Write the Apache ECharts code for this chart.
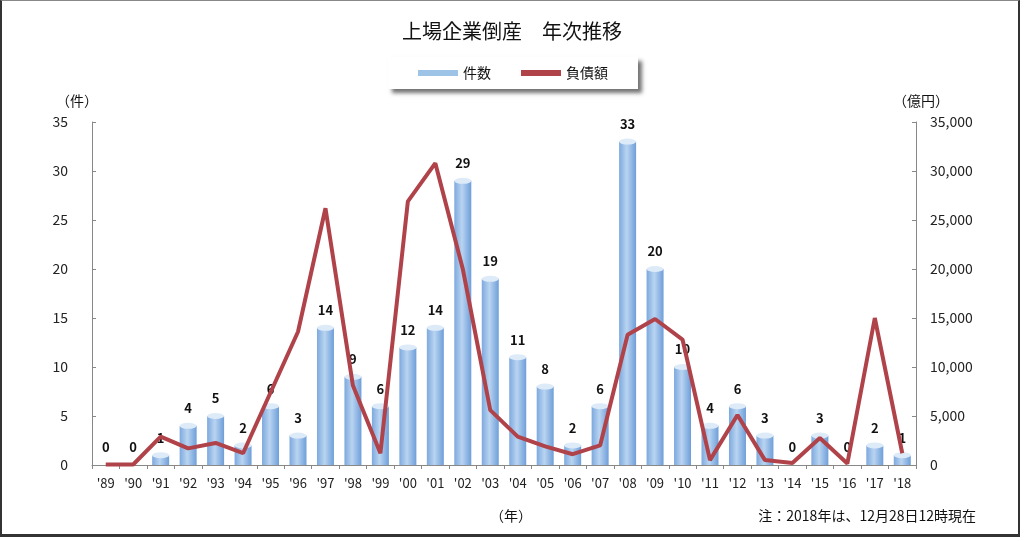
<!DOCTYPE html>
<html>
<head>
<meta charset="utf-8">
<script src="https://cdn.jsdelivr.net/npm/echarts@6/dist/echarts.min.js"></script>
<style>
html,body{margin:0;padding:0;background:#fff;}
#frame{position:absolute;left:0;top:0;width:1016px;height:533px;border:2px solid #333;border-top:1px solid #888;border-bottom-width:3px;}
#chart{width:1024px;height:541px;}
</style>
</head>
<body>
<div id="chart"></div>
<div id="frame"></div>
<script>
// 年（'89〜'18）
var years = ["'89","'90","'91","'92","'93","'94","'95","'96","'97","'98","'99","'00","'01","'02","'03","'04","'05","'06","'07","'08","'09","'10","'11","'12","'13","'14","'15","'16","'17","'18"];
// 件数
var counts = [0,0,1,4,5,2,6,3,14,9,6,12,14,29,19,11,8,2,6,33,20,10,4,6,3,0,3,0,2,1];
// 負債額（億円）
var debts = [50,50,2900,1700,2250,1200,7400,13600,26200,8100,1200,26900,30800,20000,5600,2900,1900,1100,2000,13300,14900,12800,500,5100,500,200,2750,150,15000,1200];
var leftTicks = [0,5,10,15,20,25,30,35];
var rightTicks = [0,5000,10000,15000,20000,25000,30000,35000];

var capData = counts.map(function(v){ return v > 0 ? v : '-'; });
var font = '"Noto Sans CJK JP", sans-serif';

var chart = echarts.init(document.getElementById('chart'));
chart.setOption({
    animation:false,
    textStyle:{fontFamily:font},
    title:{
        text:'上場企業倒産　年次推移',
        left:'center',
        top:16,
        textStyle:{fontSize:20,fontWeight:'normal',color:'#111',fontFamily:font}
    },
    legend:{
        left:388,
        top:57,
        padding:[9,30,9,30],
        itemGap:30,
        itemWidth:40,
        itemHeight:6,
        backgroundColor:'#fff',
        shadowColor:'rgba(0,0,0,0.55)',
        shadowBlur:4,
        shadowOffsetX:4,
        shadowOffsetY:4,
        textStyle:{fontSize:14,color:'#111',fontFamily:font},
        data:[
            {name:'件数',icon:'rect',itemStyle:{color:'#9DC3E6'}},
            {name:'負債額',icon:'rect',itemStyle:{color:'#B0434A'}}
        ]
    },
    grid:{left:92,right:108,top:122,bottom:76},
    xAxis:{
        type:'category',
        data:years,
        axisLine:{lineStyle:{color:'#888'}},
        axisTick:{show:true,length:4,lineStyle:{color:'#888'}},
        axisLabel:{color:'#222',fontSize:13,margin:12,interval:0}
    },
    yAxis:[{
        type:'value',
        min:0,max:35,interval:5,
        name:'（件）',
        nameLocation:'end',
        nameGap:14,
        nameTextStyle:{fontSize:14,color:'#111',align:'center',padding:[0,0,0,-30]},
        splitLine:{show:false},
        axisLine:{show:true,lineStyle:{color:'#888'}},
        axisTick:{show:true,inside:true,length:4,lineStyle:{color:'#888'}},
        axisLabel:{color:'#222',fontSize:14,margin:24,formatter:function(v){return leftTicks.indexOf(v)>=0?String(v):'';}}
    },{
        type:'value',
        min:0,max:35000,interval:5000,
        name:'（億円）',
        nameLocation:'end',
        nameGap:14,
        nameTextStyle:{fontSize:14,color:'#111',padding:[0,0,0,10]},
        splitLine:{show:false},
        axisLine:{show:true,lineStyle:{color:'#888'}},
        axisTick:{show:true,inside:true,length:4,lineStyle:{color:'#888'}},
        axisLabel:{color:'#222',fontSize:14,margin:14,formatter:function(v){return rightTicks.indexOf(v)>=0?v.toLocaleString('en-US'):'';}}
    }],
    graphic:[
        {type:'text',left:490,top:509,style:{text:'（年）',fontSize:14,fill:'#111',fontFamily:font}},
        {type:'text',right:48,top:509,style:{text:'注：2018年は、12月28日12時現在',fontSize:14,fill:'#111',fontFamily:font}}
    ],
    series:[{
        name:'件数',
        type:'bar',
        data:counts,
        barWidth:17,
        z:2,
        itemStyle:{
            color:new echarts.graphic.LinearGradient(0,0,1,0,[
                {offset:0,color:'#7DA9DE'},
                {offset:0.45,color:'#B9D4F1'},
                {offset:1,color:'#6E9ED9'}
            ])
        },
        label:{show:true,position:'top',distance:11,color:'#111',fontSize:13,fontWeight:'bold'}
    },{
        name:'件数',
        type:'pictorialBar',
        data:capData,
        symbol:'circle',
        symbolSize:[17,6],
        symbolPosition:'end',
        symbolOffset:[0,'-50%'],
        z:3,
        itemStyle:{color:'#DDEBF9'},
        tooltip:{show:false}
    },{
        name:'負債額',
        type:'line',
        yAxisIndex:1,
        data:debts,
        showSymbol:false,
        symbol:'none',
        z:5,
        lineStyle:{color:'#B0434A',width:4}
    }]
});
</script>
</body>
</html>
